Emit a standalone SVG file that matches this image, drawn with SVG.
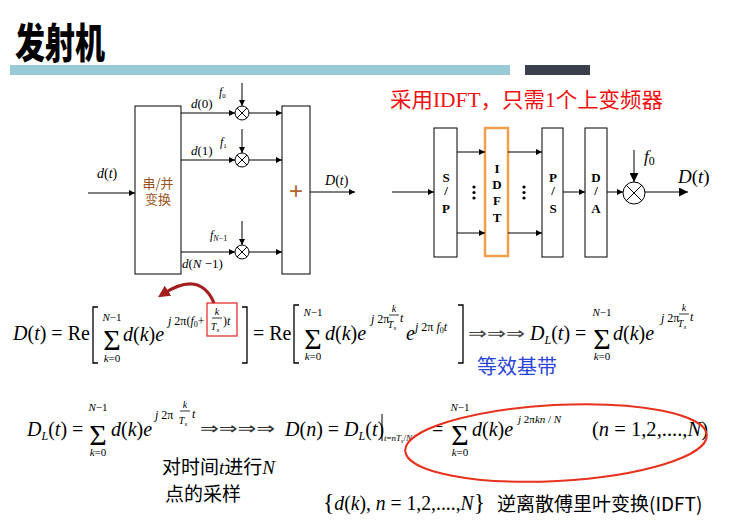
<svg xmlns="http://www.w3.org/2000/svg" width="731" height="521" viewBox="0 0 731 521">
<defs>
<marker id="ah" viewBox="0 0 10 10" refX="10" refY="5" markerWidth="8" markerHeight="6" markerUnits="userSpaceOnUse" orient="auto"><path d="M0,0 L10,5 L0,10 z" fill="#000"/></marker>
<marker id="ahL" viewBox="0 0 10 10" refX="10" refY="5" markerWidth="13" markerHeight="9" markerUnits="userSpaceOnUse" orient="auto"><path d="M0,0 L10,5 L0,10 z" fill="#000"/></marker>
<marker id="ahR" viewBox="0 0 10 10" refX="5" refY="5" markerWidth="12" markerHeight="12" markerUnits="userSpaceOnUse" orient="auto"><path d="M0,0 L10,5 L0,10 z" fill="#A32020"/></marker>
</defs>
<style>
.box{fill:#fff;stroke:#000;stroke-width:1}
.ln{stroke:#000;stroke-width:1;fill:none}
.m{font-family:"Liberation Serif","Times New Roman",serif;fill:#000}
.i{font-style:italic}
.b{font-family:"Liberation Serif",serif;font-weight:bold;font-size:13px;text-anchor:middle}
.cjk{font-family:"Noto Sans CJK SC","Noto Sans",sans-serif}
.br{stroke:#000;stroke-width:1.3;fill:none}
</style>
<rect width="731" height="521" fill="#fff"/>

<!-- header -->
<g id="title">
<text x="15" y="58" font-family="'Noto Sans CJK SC',sans-serif" font-weight="900" font-size="41" textLength="90" lengthAdjust="spacingAndGlyphs" fill="#000">发射机</text>
<rect x="10" y="65" width="500" height="10" fill="#98CBD6"/>
<rect x="525" y="65" width="65" height="10" fill="#3A404B"/>
</g>

<!-- left block diagram -->
<g id="sp1">
<rect class="box" x="135" y="106" width="46" height="168"/>
<text class="cjk" x="158" y="188" font-size="13" text-anchor="middle" fill="#9A5420">串/并</text>
<text class="cjk" x="158" y="204" font-size="13" text-anchor="middle" fill="#9A5420">变换</text>
</g>
<g id="sum1">
<rect class="box" x="282" y="106" width="28" height="168"/>
<text x="296" y="199" font-family="'Liberation Sans',sans-serif" font-size="24" text-anchor="middle" fill="#B0602A">+</text>
</g>
<g id="mul0"><circle cx="242" cy="113" r="7" class="ln"/><path class="ln" d="M237,108 L247,118 M247,108 L237,118"/></g>
<g id="mul1"><circle cx="242" cy="160" r="7" class="ln"/><path class="ln" d="M237,155 L247,165 M247,155 L237,165"/></g>
<g id="mulN"><circle cx="242" cy="252" r="7" class="ln"/><path class="ln" d="M237,247 L247,257 M247,247 L237,257"/></g>
<g id="conn1">
<line class="ln" x1="88" y1="193" x2="135" y2="193" marker-end="url(#ah)"/>
<line class="ln" x1="181" y1="113" x2="235" y2="113" marker-end="url(#ah)"/>
<line class="ln" x1="181" y1="160" x2="235" y2="160" marker-end="url(#ah)"/>
<line class="ln" x1="181" y1="252" x2="235" y2="252" marker-end="url(#ah)"/>
<line class="ln" x1="249" y1="113" x2="282" y2="113" marker-end="url(#ah)"/>
<line class="ln" x1="249" y1="160" x2="282" y2="160" marker-end="url(#ah)"/>
<line class="ln" x1="249" y1="252" x2="282" y2="252" marker-end="url(#ah)"/>
<line class="ln" x1="242" y1="83" x2="242" y2="106" marker-end="url(#ah)"/>
<line class="ln" x1="242" y1="129" x2="242" y2="153" marker-end="url(#ah)"/>
<line class="ln" x1="242" y1="221" x2="242" y2="245" marker-end="url(#ah)"/>
<line class="ln" x1="310" y1="192" x2="355" y2="192" marker-end="url(#ah)"/>
</g>
<g id="labels1" class="m">
<text x="97" y="178" font-size="14"><tspan class="i">d</tspan>(<tspan class="i">t</tspan>)</text>
<text x="191" y="108" font-size="13"><tspan class="i">d</tspan>(0)</text>
<text x="191" y="155" font-size="13"><tspan class="i">d</tspan>(1)</text>
<text x="182" y="268" font-size="13"><tspan class="i">d</tspan>(<tspan class="i">N</tspan> −1)</text>
<text x="219" y="96" font-size="12"><tspan class="i">f</tspan><tspan font-size="7" dy="2">0</tspan></text>
<text x="220" y="146" font-size="12"><tspan class="i">f</tspan><tspan font-size="7" dy="2">1</tspan></text>
<text x="210" y="239" font-size="12"><tspan class="i">f</tspan><tspan font-size="8" dy="2" class="i">N</tspan><tspan font-size="8">−1</tspan></text>
<text x="325" y="185" font-size="14"><tspan class="i">D</tspan>(<tspan class="i">t</tspan>)</text>
</g>

<!-- right block diagram -->
<text x="390" y="107" class="cjk" font-size="21" textLength="273" lengthAdjust="spacingAndGlyphs" fill="#F01010">采用<tspan font-family="'Liberation Serif',serif">IDFT</tspan>，只需<tspan font-family="'Liberation Serif',serif">1</tspan>个上变频器</text>
<g id="sp2">
<rect class="box" x="434" y="128" width="23" height="129"/>
<text class="b m" x="446" y="182">S</text><text class="b m" x="446" y="195">/</text><text class="b m" x="446" y="213">P</text>
</g>
<g id="idft">
<rect x="485" y="128" width="23" height="128" fill="#fff" stroke="#F0A048" stroke-width="2.5"/>
<text class="b m" x="497" y="173">I</text><text class="b m" x="497" y="189">D</text><text class="b m" x="497" y="205">F</text><text class="b m" x="497" y="222">T</text>
</g>
<g id="ps2">
<rect class="box" x="542" y="128" width="21" height="129"/>
<text class="b m" x="553" y="182">P</text><text class="b m" x="553" y="195">/</text><text class="b m" x="553" y="213">S</text>
</g>
<g id="da2">
<rect class="box" x="585" y="128" width="22" height="129"/>
<text class="b m" x="596" y="182">D</text><text class="b m" x="596" y="195">/</text><text class="b m" x="596" y="213">A</text>
</g>
<g id="mix2"><circle cx="634" cy="193" r="11" class="ln"/><path class="ln" d="M626.2,185.2 L641.8,200.8 M641.8,185.2 L626.2,200.8"/></g>
<g id="dots2" fill="#000">
<circle cx="474" cy="187" r="1.6"/><circle cx="474" cy="192.5" r="1.6"/><circle cx="474" cy="198" r="1.6"/>
<circle cx="524" cy="187" r="1.6"/><circle cx="524" cy="192.5" r="1.6"/><circle cx="524" cy="198" r="1.6"/>
</g>
<g id="conn2">
<line class="ln" x1="392" y1="192" x2="434" y2="192" marker-end="url(#ah)"/>
<line class="ln" x1="457" y1="152" x2="485" y2="152" marker-end="url(#ah)"/>
<line class="ln" x1="457" y1="233" x2="485" y2="233" marker-end="url(#ah)"/>
<line class="ln" x1="508" y1="152" x2="542" y2="152" marker-end="url(#ah)"/>
<line class="ln" x1="508" y1="233" x2="542" y2="233" marker-end="url(#ah)"/>
<line class="ln" x1="563" y1="192" x2="585" y2="192" marker-end="url(#ah)"/>
<line class="ln" x1="607" y1="192" x2="623" y2="192" marker-end="url(#ah)"/>
<line class="ln" x1="634" y1="150" x2="634" y2="182" marker-end="url(#ahL)"/>
<line class="ln" x1="645" y1="192" x2="688" y2="192" marker-end="url(#ahL)"/>
</g>
<g id="labels2" class="m">
<text x="644" y="162" font-size="17"><tspan class="i">f</tspan><tspan font-size="12" dy="3">0</tspan></text>
<text x="678" y="183" font-size="19"><tspan class="i">D</tspan>(<tspan class="i">t</tspan>)</text>
</g>

<!-- equation row 1 -->
<g id="eq1" class="m">
<text x="13" y="340" font-size="20"><tspan class="i">D</tspan>(<tspan class="i">t</tspan>) = Re</text>
<path class="br" d="M98,307 L93,307 L93,363 L98,363"/>
<text x="112" y="350" font-size="30" text-anchor="middle">Σ</text>
<text x="112" y="321" font-size="11" text-anchor="middle"><tspan class="i">N</tspan>−1</text>
<text x="112" y="362" font-size="11" text-anchor="middle"><tspan class="i">k</tspan>=0</text>
<text x="123" y="341" font-size="20" class="i">d<tspan font-style="normal">(</tspan>k<tspan font-style="normal">)</tspan>e</text>
<text x="168" y="325" font-size="12"><tspan class="i">j</tspan> 2π(<tspan class="i">f</tspan><tspan font-size="8" dy="2">0</tspan><tspan dy="-2">+</tspan></text>
<text x="217" y="315" font-size="10" class="i" text-anchor="middle">k</text>
<line x1="212" y1="318" x2="222" y2="318" stroke="#000" stroke-width="0.8"/>
<text x="215" y="330" font-size="10" class="i" text-anchor="middle">T<tspan font-size="7" dy="2">s</tspan></text>
<text x="223" y="325" font-size="12">)<tspan class="i">t</tspan></text>
<path class="br" d="M242,307 L247,307 L247,363 L242,363"/>

<text x="253" y="340" font-size="20">= Re</text>
<path class="br" d="M299,305 L294,305 L294,363 L299,363"/>
<text x="313" y="349" font-size="30" text-anchor="middle">Σ</text>
<text x="313" y="316" font-size="11" text-anchor="middle"><tspan class="i">N</tspan>−1</text>
<text x="313" y="360" font-size="11" text-anchor="middle"><tspan class="i">k</tspan>=0</text>
<text x="325" y="340" font-size="20" class="i">d<tspan font-style="normal">(</tspan>k<tspan font-style="normal">)</tspan>e</text>
<text x="371" y="323" font-size="12"><tspan class="i">j</tspan> 2π</text>
<text x="394" y="312" font-size="10" class="i" text-anchor="middle">k</text>
<line x1="389" y1="315" x2="399" y2="315" stroke="#000" stroke-width="0.8"/>
<text x="392" y="328" font-size="10" class="i" text-anchor="middle">T<tspan font-size="7" dy="2">s</tspan></text>
<text x="400" y="322" font-size="12" class="i">t</text>
<text x="406" y="340" font-size="20" class="i">e</text>
<text x="415" y="331" font-size="12"><tspan class="i">j</tspan> 2π <tspan class="i">f</tspan><tspan font-size="8" dy="2">0</tspan><tspan dy="-2" class="i">t</tspan></text>
<path class="br" d="M458,305 L463,305 L463,363 L458,363"/>

<text x="468" y="339" font-family="'DejaVu Sans',sans-serif" font-size="17" textLength="57" lengthAdjust="spacingAndGlyphs" fill="#444">⇒⇒⇒</text>
<text x="530" y="340" font-size="20"><tspan class="i">D</tspan><tspan font-size="12" dy="4" class="i">L</tspan><tspan dy="-4">(</tspan><tspan class="i">t</tspan>) =</text>
<text x="602" y="349" font-size="30" text-anchor="middle">Σ</text>
<text x="602" y="316" font-size="11" text-anchor="middle"><tspan class="i">N</tspan>−1</text>
<text x="602" y="360" font-size="11" text-anchor="middle"><tspan class="i">k</tspan>=0</text>
<text x="613" y="340" font-size="20" class="i">d<tspan font-style="normal">(</tspan>k<tspan font-style="normal">)</tspan>e</text>
<text x="661" y="322" font-size="12"><tspan class="i">j</tspan> 2π</text>
<text x="684" y="311" font-size="10" class="i" text-anchor="middle">k</text>
<line x1="679" y1="314" x2="689" y2="314" stroke="#000" stroke-width="0.8"/>
<text x="682" y="327" font-size="10" class="i" text-anchor="middle">T<tspan font-size="7" dy="2">s</tspan></text>
<text x="690" y="321" font-size="12" class="i">t</text>
</g>
<rect x="207" y="303" width="30" height="33" fill="none" stroke="#E84040" stroke-width="1.4"/>
<path d="M214,303 Q200,270 163,294" fill="none" stroke="#A32020" stroke-width="3.2" marker-end="url(#ahR)"/>
<text x="477" y="374" class="cjk" font-size="20" fill="#2A45DA">等效基带</text>

<!-- equation row 2 -->
<g id="eq2" class="m">
<text x="27" y="436" font-size="20"><tspan class="i">D</tspan><tspan font-size="12" dy="4" class="i">L</tspan><tspan dy="-4">(</tspan><tspan class="i">t</tspan>) =</text>
<text x="98" y="445" font-size="30" text-anchor="middle">Σ</text>
<text x="98" y="411" font-size="11" text-anchor="middle"><tspan class="i">N</tspan>−1</text>
<text x="98" y="456" font-size="11" text-anchor="middle"><tspan class="i">k</tspan>=0</text>
<text x="111" y="436" font-size="20" class="i">d<tspan font-style="normal">(</tspan>k<tspan font-style="normal">)</tspan>e</text>
<text x="155" y="419" font-size="12"><tspan class="i">j</tspan> 2π</text>
<text x="185" y="408" font-size="10" class="i" text-anchor="middle">k</text>
<line x1="180" y1="411" x2="190" y2="411" stroke="#000" stroke-width="0.8"/>
<text x="183" y="424" font-size="10" class="i" text-anchor="middle">T<tspan font-size="7" dy="2">s</tspan></text>
<text x="192" y="418" font-size="12" class="i">t</text>
<text x="200" y="434" font-family="'DejaVu Sans',sans-serif" font-size="17" textLength="75" lengthAdjust="spacingAndGlyphs" fill="#333">⇒⇒⇒⇒</text>
<text x="285" y="436" font-size="20"><tspan class="i">D</tspan>(<tspan class="i">n</tspan>) = <tspan class="i">D</tspan><tspan font-size="12" dy="4" class="i">L</tspan><tspan dy="-4">(</tspan><tspan class="i">t</tspan>)</text>
<line x1="382" y1="414" x2="382" y2="441" stroke="#000" stroke-width="1"/>
<text x="384" y="441" font-size="9" class="i">t<tspan font-style="normal">=</tspan>nT<tspan font-size="6" dy="2">s</tspan><tspan dy="-2" font-style="normal">/</tspan>N</text>
<text x="432" y="436" font-size="20">=</text>
<text x="460" y="445" font-size="30" text-anchor="middle">Σ</text>
<text x="460" y="411" font-size="11" text-anchor="middle"><tspan class="i">N</tspan>−1</text>
<text x="460" y="456" font-size="11" text-anchor="middle"><tspan class="i">k</tspan>=0</text>
<text x="472" y="436" font-size="20" class="i">d<tspan font-style="normal">(</tspan>k<tspan font-style="normal">)</tspan>e</text>
<text x="518" y="423" font-size="11"><tspan class="i">j</tspan> 2π<tspan class="i">kn</tspan> / <tspan class="i">N</tspan></text>
<text x="592" y="436" font-size="20" textLength="116" lengthAdjust="spacingAndGlyphs">(<tspan class="i">n</tspan> = 1,2,....,<tspan class="i">N</tspan>)</text>
</g>
<ellipse cx="556" cy="443" rx="151" ry="38" transform="rotate(-3 556 443)" fill="none" stroke="#E8321E" stroke-width="2"/>

<!-- bottom notes -->
<text x="162" y="474" class="cjk" font-size="19" fill="#000">对时间<tspan font-family="'Liberation Serif',serif" font-style="italic">t</tspan>进行<tspan font-family="'Liberation Serif',serif" font-style="italic">N</tspan></text>
<text x="165" y="501" class="cjk" font-size="19" fill="#000">点的采样</text>
<text x="323" y="510" class="m" font-size="20" textLength="162" lengthAdjust="spacingAndGlyphs"><tspan font-size="24">{</tspan><tspan class="i">d</tspan>(<tspan class="i">k</tspan>), <tspan class="i">n</tspan> = 1,2,....,<tspan class="i">N</tspan><tspan font-size="24">}</tspan></text>
<text x="497" y="511" class="cjk" font-size="19" fill="#000">逆离散傅里叶变换(IDFT)</text>
</svg>
